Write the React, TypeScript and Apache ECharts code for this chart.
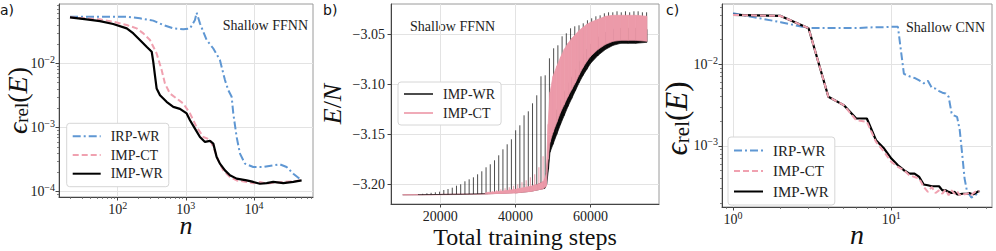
import React, { useEffect, useRef } from 'react';
import * as echarts from 'echarts';

const SERIF = "'Liberation Serif', serif";
const SANS = "'DejaVu Sans', sans-serif";

// ---------- Panel a (Shallow FFNN, relative error vs n) ----------
const aWrN = [20, 35, 55, 86, 136, 170, 212, 266, 316, 333, 352, 373, 418, 522, 655, 820, 1028, 1151, 1361, 1611, 1910, 2259, 2529, 2831, 3162, 3750, 4436, 5559, 7798, 9750, 12218, 15310, 19140, 26850, 37670, 49890];
const aWrE = [0.0524, 0.0487, 0.0458, 0.0412, 0.0352, 0.0294, 0.0232, 0.0182, 0.0152, 0.0106, 0.00658, 0.00407, 0.0032, 0.00252, 0.0021, 0.00196, 0.00166, 0.0013, 0.000964, 0.000714, 0.000597, 0.000619, 0.000562, 0.000348, 0.000274, 0.000215, 0.00018, 0.00016, 0.00015, 0.000142, 0.000133, 0.000136, 0.000142, 0.000136, 0.000142, 0.00015];
const aCtN = [20, 55, 86, 136, 190, 238, 298, 373, 442, 494, 585, 733, 918, 1151, 1439, 1803, 2259, 2529, 2992, 3540, 4436, 5559, 7798, 9750, 12218, 15310, 19140, 26850, 37670, 49890];
const aCtE = [0.0524, 0.0487, 0.0448, 0.0397, 0.0352, 0.0294, 0.0232, 0.0143, 0.00787, 0.00487, 0.0034, 0.00284, 0.00237, 0.00166, 0.00102, 0.000714, 0.000649, 0.000499, 0.000309, 0.000215, 0.000169, 0.00015, 0.000142, 0.000136, 0.000142, 0.000133, 0.000138, 0.000142, 0.000145, 0.00015];
const aIrN = [20, 55, 136, 212, 333, 468, 655, 918, 1151, 1361, 1439, 1611, 2018, 2529, 3162, 3750, 4198, 4699, 4966, 5559, 6223, 7362, 9750, 13677, 19140, 23990, 30060, 37670, 49890];
const aIrE = [0.0536, 0.0536, 0.0536, 0.0505, 0.0465, 0.0397, 0.0352, 0.034, 0.0352, 0.0475, 0.0619, 0.0422, 0.0232, 0.0171, 0.0113, 0.0055, 0.00383, 0.00302, 0.00166, 0.000714, 0.000393, 0.000274, 0.000243, 0.000243, 0.000258, 0.000267, 0.000243, 0.000191, 0.00015];
const aXTicks = [100, 1000, 10000];
const aYTicks = [0.0001, 0.001, 0.01];

// ---------- Panel b (E/N vs total training steps) ----------
const bWrLeadSteps = [10000, 14200];
const bWrLeadVals = [-3.2105, -3.2104];
const bWrSpikeSteps = [14200, 15320, 16450, 17570, 18700, 19820, 20950, 22070, 23200, 24320, 25440, 26570, 27690, 28820, 29940, 31060, 32190, 33310, 34440, 35560, 36680, 37810, 38930, 40060, 41180, 42300, 43430, 44550, 45680, 46800, 47920, 49050, 50170, 51300, 52420, 53540, 54670, 55790, 56920, 58040, 59160, 60290, 61410, 62540, 63660, 64780, 65910, 67030, 68160, 69280, 70400, 71530, 72650, 73780, 74900];
const bWrSpikeBase = [-3.2104, -3.2104, -3.2103, -3.2103, -3.2102, -3.2102, -3.2101, -3.2101, -3.21, -3.21, -3.21, -3.2099, -3.2098, -3.2097, -3.2096, -3.2095, -3.2094, -3.2093, -3.2092, -3.209, -3.2088, -3.2086, -3.2084, -3.208, -3.2075, -3.207, -3.2063, -3.2055, -3.2045, -3.203, -3.201, -3.16, -3.15, -3.14, -3.13, -3.12, -3.11, -3.1, -3.09, -3.085, -3.08, -3.075, -3.07, -3.067, -3.064, -3.062, -3.06, -3.058, -3.057, -3.057, -3.057, -3.057, -3.057, -3.057, -3.057];
const bWrSpikePeak = [-3.2098, -3.2095, -3.209, -3.2085, -3.208, -3.2074, -3.2057, -3.2047, -3.2034, -3.2014, -3.2, -3.197, -3.195, -3.193, -3.19, -3.187, -3.183, -3.18, -3.176, -3.171, -3.165, -3.16, -3.155, -3.146, -3.141, -3.131, -3.127, -3.119, -3.111, -3.092, -3.091, -3.074, -3.064, -3.061, -3.052, -3.049, -3.044, -3.042, -3.041, -3.039, -3.036, -3.034, -3.032, -3.031, -3.029, -3.028, -3.028, -3.027, -3.028, -3.027, -3.028, -3.027, -3.027, -3.028, -3.028];
const bWrBandSteps = [40000, 44000, 46000, 47800, 48300, 48800, 49200, 50000, 51000, 52000, 53000, 54000, 55000, 56000, 57000, 58000, 59000, 60000, 62000, 64000, 66000, 68000, 70000, 72000, 75000];
const bWrBandLow = [-3.2085, -3.207, -3.2055, -3.204, -3.2, -3.185, -3.168, -3.16, -3.15, -3.14, -3.131, -3.122, -3.114, -3.106, -3.098, -3.091, -3.085, -3.079, -3.071, -3.065, -3.061, -3.059, -3.059, -3.059, -3.058];
const bWrBandHigh = [-3.207, -3.203, -3.2, -3.197, -3.19, -3.16, -3.145, -3.136, -3.126, -3.116, -3.108, -3.1, -3.093, -3.086, -3.078, -3.071, -3.065, -3.06, -3.053, -3.048, -3.045, -3.044, -3.044, -3.044, -3.045];

const bCtLineSteps = [10000, 20000, 30000, 32750];
const bCtLineVals = [-3.2105, -3.2102, -3.2097, -3.2095];
const bCtSpikeSteps = [32750, 33870, 35000, 36120, 37250, 38370, 39500, 40620, 41740, 42870, 43990, 45120, 46240, 47360];
const bCtSpikeBase = [-3.2095, -3.2093, -3.2092, -3.209, -3.2089, -3.2087, -3.2086, -3.2083, -3.2078, -3.2073, -3.207, -3.206, -3.2052, -3.2045];
const bCtSpikePeak = [-3.2075, -3.207, -3.206, -3.205, -3.204, -3.203, -3.2015, -3.2, -3.198, -3.196, -3.193, -3.19, -3.183, -3.172];
const bCtBandSteps = [32000, 36000, 40000, 44000, 46000, 47500, 48200, 48700, 49200, 50000, 51000, 52000, 53000, 54000, 55000, 56000, 57000, 58000, 59000, 60000, 62000, 64000, 66000, 68000, 70000, 72000, 75000];
const bCtBandLow = [-3.2095, -3.209, -3.2085, -3.207, -3.2055, -3.204, -3.202, -3.175, -3.158, -3.148, -3.138, -3.128, -3.12, -3.112, -3.105, -3.098, -3.09, -3.083, -3.077, -3.072, -3.065, -3.06, -3.057, -3.056, -3.056, -3.056, -3.057];
const bCtBandHigh = [-3.2085, -3.207, -3.205, -3.202, -3.2, -3.197, -3.19, -3.14, -3.108, -3.092, -3.082, -3.073, -3.065, -3.059, -3.054, -3.05, -3.046, -3.043, -3.04, -3.038, -3.035, -3.032, -3.031, -3.031, -3.031, -3.031, -3.032];
const bXTicks = [20000, 40000, 60000];
const bYTicks = [-3.2, -3.15, -3.1, -3.05];

// ---------- Panel c (Shallow CNN) ----------
const cN = [1, 2, 3, 4, 5, 6, 7, 8, 9, 10, 11, 12, 13, 14, 15, 16, 17, 18, 19, 20, 21, 22, 23, 24, 25, 26, 27, 28, 29, 30, 31, 32, 33, 34, 35, 36];
const cWrE = [0.0398, 0.0387, 0.0274, 0.00398, 0.00315, 0.00216, 0.00216, 0.00117, 0.000927, 0.0007, 0.000579, 0.000504, 0.000458, 0.000458, 0.000417, 0.000337, 0.00033, 0.000321, 0.000321, 0.000321, 0.000286, 0.000286, 0.000274, 0.000265, 0.000274, 0.000256, 0.000256, 0.00026, 0.00026, 0.00026, 0.000265, 0.00026, 0.000256, 0.000265, 0.000274, 0.000281];
const cCtE = [0.0398, 0.0387, 0.0274, 0.00398, 0.00315, 0.00206, 0.00197, 0.00112, 0.000845, 0.000637, 0.000553, 0.000504, 0.000437, 0.000417, 0.000398, 0.000315, 0.000274, 0.000315, 0.000265, 0.000286, 0.00026, 0.000292, 0.000249, 0.000286, 0.00026, 0.000279, 0.000249, 0.000265, 0.000256, 0.00026, 0.000268, 0.000251, 0.000265, 0.000276, 0.000274, 0.000281];
const cIrE = [0.0417, 0.0325, 0.0275, 0.0275, 0.0275, 0.0275, 0.0279, 0.0282, 0.0282, 0.0285, 0.0285, 0.00759, 0.00708, 0.00676, 0.00631, 0.00582, 0.00624, 0.00513, 0.00501, 0.00468, 0.00447, 0.00437, 0.00398, 0.00251, 0.00234, 0.00226, 0.00158, 0.000794, 0.000398, 0.000282, 0.000257, 0.000234, 0.00024, 0.000251, 0.000263, 0.000282];
const cXTicks = [1, 10];
const cYTicks = [0.001, 0.01];

const BLUE = '#5F97D3';
const PINK = '#F0A1B0';
const PINK_BAND = '#EC9AA9';
const PINK_LINE = 'rgba(236,150,166,0.8)';
const WR_LINE = 'rgba(0,0,0,0.7)';
const DASHDOT = [8, 3, 2, 3];
const DASH = [6, 3];

const zip = (xs: number[], ys: number[]) => xs.map((x, i) => [x, ys[i]]);

const bandSeries = (steps: number[], low: number[], high: number[], color: string) => ({
  type: 'custom',
  xAxisIndex: 1,
  yAxisIndex: 1,
  silent: true,
  data: steps.map((s, i) => [s, low[i], high[i]]),
  encode: { x: 0, y: [1, 2] },
  renderItem: (params: any, api: any) => {
    const i = params.dataIndex;
    if (i >= steps.length - 1) return { type: 'group', children: [] };
    const pts = [
      api.coord([steps[i], low[i]]),
      api.coord([steps[i + 1], low[i + 1]]),
      api.coord([steps[i + 1], high[i + 1]]),
      api.coord([steps[i], high[i]]),
    ];
    return { type: 'polygon', shape: { points: pts }, style: { fill: color, stroke: color, lineWidth: 0.7 } };
  },
});

const spikeSeries = (steps: number[], base: number[], peak: number[], color: string, width: number) => ({
  type: 'custom',
  xAxisIndex: 1,
  yAxisIndex: 1,
  silent: true,
  data: steps.map((s, i) => [s, base[i], peak[i]]),
  encode: { x: 0, y: [1, 2] },
  renderItem: (params: any, api: any) => {
    const i = params.dataIndex;
    const p0 = api.coord([steps[i], base[i]]);
    const p1 = api.coord([steps[i], peak[i]]);
    const children: any[] = [
      { type: 'line', shape: { x1: p0[0], y1: p0[1], x2: p1[0], y2: p1[1] }, style: { stroke: color, lineWidth: width } },
    ];
    if (i < steps.length - 1) {
      const p2 = api.coord([steps[i + 1], base[i + 1]]);
      children.push({ type: 'line', shape: { x1: p0[0], y1: p0[1], x2: p2[0], y2: p2[1] }, style: { stroke: color, lineWidth: width } });
    }
    return { type: 'group', children };
  },
});

const supFmt = (v: number) => {
  const l = Math.log10(v);
  const e = Math.round(l);
  if (Math.abs(l - e) > 1e-6) return '';
  const es = e < 0 ? '\u2212' + -e : String(e);
  return '{b|10}{s|' + es + '}';
};
const supRich = {
  b: { fontFamily: SERIF, fontSize: 14, color: '#222', lineHeight: 18 },
  s: { fontFamily: SERIF, fontSize: 10, color: '#222', verticalAlign: 'top', lineHeight: 10 },
};

const axisCommon = (pos: 'left' | 'bottom') => ({
  axisLine: { show: true, onZero: false, lineStyle: { color: '#444', width: 1 } },
  axisTick: { show: true, inside: false, length: 3.5, lineStyle: { color: '#444', width: 1 } },
  splitLine: { show: true, lineStyle: { color: '#e3e3e3', width: 1 } },
  position: pos,
  nameMoveOverlap: false,
});

const logAxis = (gridIndex: number, pos: 'left' | 'bottom', min: number, max: number, ticks: number[], margin: number) => {
  const c = axisCommon(pos);
  return {
    type: 'log',
    logBase: 10,
    gridIndex,
    min,
    max,
    ...c,
    axisTick: { ...c.axisTick, customValues: ticks },
    minorTick: { show: true, splitNumber: 9, length: 2, lineStyle: { color: '#666', width: 0.8 } },
    axisLabel: { customValues: ticks, formatter: supFmt, rich: supRich, margin, hideOverlap: false },
  };
};

const epsName = (size: number, sub: number, shift: number) => ({
  name: '{e|\u03f5}{s|rel}{p|(}{i|E}{p|)}',
  nameLocation: 'middle',
  nameRotate: 90,
  nameTextStyle: {
    padding: [0, shift, 0, 0],
    rich: {
      e: { fontFamily: SERIF, fontStyle: 'italic', fontSize: size, color: '#111', lineHeight: size },
      s: { fontFamily: SERIF, fontSize: sub, color: '#111', verticalAlign: 'bottom', lineHeight: sub },
      p: { fontFamily: SERIF, fontSize: size, color: '#111', lineHeight: size },
      i: { fontFamily: SERIF, fontStyle: 'italic', fontSize: size, color: '#111', lineHeight: size },
    },
  },
});

const legendBase = (left: number, top: number, names: string[], padding: number[], itemWidth: number, itemGap: number, fontSize: number) => ({
  left,
  top,
  orient: 'vertical',
  padding,
  itemWidth,
  itemHeight: 14,
  itemGap,
  data: names,
  formatter: (n: string) => n.split(':')[1],
  itemStyle: { opacity: 0 },
  textStyle: { fontFamily: SERIF, fontSize, color: '#222', padding: [0, 0, 0, 5] },
  backgroundColor: '#fff',
  borderColor: '#d6d6d6',
  borderWidth: 1,
  borderRadius: 3,
  selectedMode: false,
});

export default function App() {
  const ref = useRef<HTMLDivElement>(null);
  useEffect(() => {
    if (!ref.current) return;
    const chart = echarts.init(ref.current, undefined, { renderer: 'svg' });
    const gridCommon = { show: true, borderColor: '#9a9a9a', borderWidth: 1, backgroundColor: 'transparent', containLabel: false, outerBoundsMode: 'none' };

    const option: any = {
      animation: false,
      backgroundColor: '#fff',
      textStyle: { fontFamily: SERIF },
      grid: [
        { ...gridCommon, left: 59, top: 4, width: 254, height: 193 },
        { ...gridCommon, left: 391, top: 4, width: 268, height: 200 },
        { ...gridCommon, left: 722, top: 4, width: 270, height: 203 },
      ],
      xAxis: [
        {
          ...logAxis(0, 'bottom', 13.8, 73300, aXTicks, 3),
          name: 'n',
          nameLocation: 'middle',
          nameGap: 15,
          nameTextStyle: { fontFamily: SERIF, fontStyle: 'italic', fontSize: 26, color: '#111' },
        },
        {
          type: 'value',
          gridIndex: 1,
          min: 6900,
          max: 78200,
          splitNumber: 3,
          ...axisCommon('bottom'),
          axisTick: { ...axisCommon('bottom').axisTick, customValues: bXTicks },
          axisLabel: { customValues: bXTicks, fontFamily: SERIF, fontSize: 14, color: '#222', margin: 5, formatter: (v: number) => String(v) },
          name: 'Total training steps',
          nameLocation: 'middle',
          nameGap: 21,
          nameTextStyle: { fontFamily: SERIF, fontSize: 24, color: '#111' },
        },
        {
          ...logAxis(2, 'bottom', 0.852, 43.2, cXTicks, 3),
          name: 'n',
          nameLocation: 'middle',
          nameGap: 13,
          nameTextStyle: { fontFamily: SERIF, fontStyle: 'italic', fontSize: 28, color: '#111' },
        },
      ],
      yAxis: [
        { ...logAxis(0, 'left', 8.27e-5, 0.0845, aYTicks, 4), ...epsName(28, 19, 0), nameGap: 28 },
        {
          type: 'value',
          gridIndex: 1,
          min: -3.2197,
          max: -3.0197,
          splitNumber: 4,
          ...axisCommon('left'),
          axisTick: { ...axisCommon('left').axisTick, customValues: bYTicks },
          axisLabel: {
            customValues: bYTicks,
            fontFamily: SERIF,
            fontSize: 14,
            color: '#222',
            margin: 6,
            formatter: (v: number) => v.toFixed(2).replace('-', '\u2212'),
          },
          name: '{i|E}{p|/}{i|N}',
          nameLocation: 'middle',
          nameRotate: 90,
          nameGap: 46,
          nameTextStyle: {
            rich: {
              i: { fontFamily: SERIF, fontStyle: 'italic', fontSize: 26, color: '#111', lineHeight: 26 },
              p: { fontFamily: SERIF, fontSize: 26, color: '#111', lineHeight: 26 },
            },
          },
        },
        { ...logAxis(2, 'left', 1.79e-4, 0.0542, cYTicks, 4), ...epsName(31, 21, 26), nameGap: 30 },
      ],
      legend: [
        legendBase(66.7, 123.3, ['a:IRP-WR', 'a:IMP-CT', 'a:IMP-WR'], [6, 6, 6, 5], 28, 4.7, 14),
        { ...legendBase(398, 82, ['b:IMP-WR', 'b:IMP-CT'], [5, 6, 5, 5], 29, 5, 14), lineStyle: { width: 2 } },
        legendBase(728, 137, ['c:IRP-WR', 'c:IMP-CT', 'c:IMP-WR'], [6, 6, 6, 5], 29, 5.5, 15),
      ],
      graphic: [
        { type: 'text', x: 0, y: 3, style: { text: 'a)', fontFamily: SANS, fontSize: 14, fill: '#111' } },
        { type: 'text', x: 323, y: 3, style: { text: 'b)', fontFamily: SANS, fontSize: 14, fill: '#111' } },
        { type: 'text', x: 666, y: 3, style: { text: 'c)', fontFamily: SANS, fontSize: 14, fill: '#111' } },
        { type: 'text', x: 308, y: 25, style: { text: 'Shallow FFNN', fontFamily: SERIF, fontSize: 14, fill: '#222', align: 'right', verticalAlign: 'middle' } },
        { type: 'text', x: 410, y: 26, style: { text: 'Shallow FFNN', fontFamily: SERIF, fontSize: 14, fill: '#222', align: 'left', verticalAlign: 'middle' } },
        { type: 'text', x: 985, y: 27, style: { text: 'Shallow CNN', fontFamily: SERIF, fontSize: 14, fill: '#222', align: 'right', verticalAlign: 'middle' } },
      ],
      series: [
        // panel a
        { name: 'a:IRP-WR', type: 'line', xAxisIndex: 0, yAxisIndex: 0, data: zip(aIrN, aIrE), showSymbol: false, symbol: 'none', color: BLUE, lineStyle: { color: BLUE, width: 2, type: DASHDOT } },
        { name: 'a:IMP-CT', type: 'line', xAxisIndex: 0, yAxisIndex: 0, data: zip(aCtN, aCtE), showSymbol: false, symbol: 'none', color: PINK, lineStyle: { color: PINK, width: 2, type: DASH } },
        { name: 'a:IMP-WR', type: 'line', xAxisIndex: 0, yAxisIndex: 0, data: zip(aWrN, aWrE), showSymbol: false, symbol: 'none', color: '#000', lineStyle: { color: '#000', width: 2.2 } },
        // panel b
        { name: 'b:IMP-WR', type: 'line', xAxisIndex: 1, yAxisIndex: 1, z: 1, data: zip(bWrLeadSteps, bWrLeadVals), showSymbol: false, symbol: 'none', color: WR_LINE, lineStyle: { color: WR_LINE, width: 1 } },
        { name: 'b:IMP-CT', type: 'line', xAxisIndex: 1, yAxisIndex: 1, z: 1, data: zip(bCtLineSteps, bCtLineVals), showSymbol: false, symbol: 'none', color: 'rgba(236,150,166,0.55)', lineStyle: { color: PINK_LINE, width: 1.5 } },
        spikeSeries(bWrSpikeSteps, bWrSpikeBase, bWrSpikePeak, WR_LINE, 1),
        bandSeries(bWrBandSteps, bWrBandLow, bWrBandHigh, '#0a0a0a'),
        spikeSeries(bCtSpikeSteps, bCtSpikeBase, bCtSpikePeak, PINK_LINE, 1.2),
        bandSeries(bCtBandSteps, bCtBandLow, bCtBandHigh, PINK_BAND),
        // panel c
        { name: 'c:IRP-WR', type: 'line', xAxisIndex: 2, yAxisIndex: 2, data: zip(cN, cIrE), showSymbol: false, symbol: 'none', color: BLUE, lineStyle: { color: BLUE, width: 2, type: DASHDOT } },
        { name: 'c:IMP-WR', type: 'line', xAxisIndex: 2, yAxisIndex: 2, data: zip(cN, cWrE), showSymbol: false, symbol: 'none', color: '#000', lineStyle: { color: '#000', width: 2.2 } },
        { name: 'c:IMP-CT', type: 'line', xAxisIndex: 2, yAxisIndex: 2, data: zip(cN, cCtE), showSymbol: false, symbol: 'none', color: PINK, lineStyle: { color: PINK, width: 2, type: DASH } },
      ],
    };
    chart.setOption(option);
    return () => chart.dispose();
  }, []);
  return <div ref={ref} style={{ position: 'fixed', left: 0, top: 0, width: 996, height: 251, background: '#fff' }} />;
}
